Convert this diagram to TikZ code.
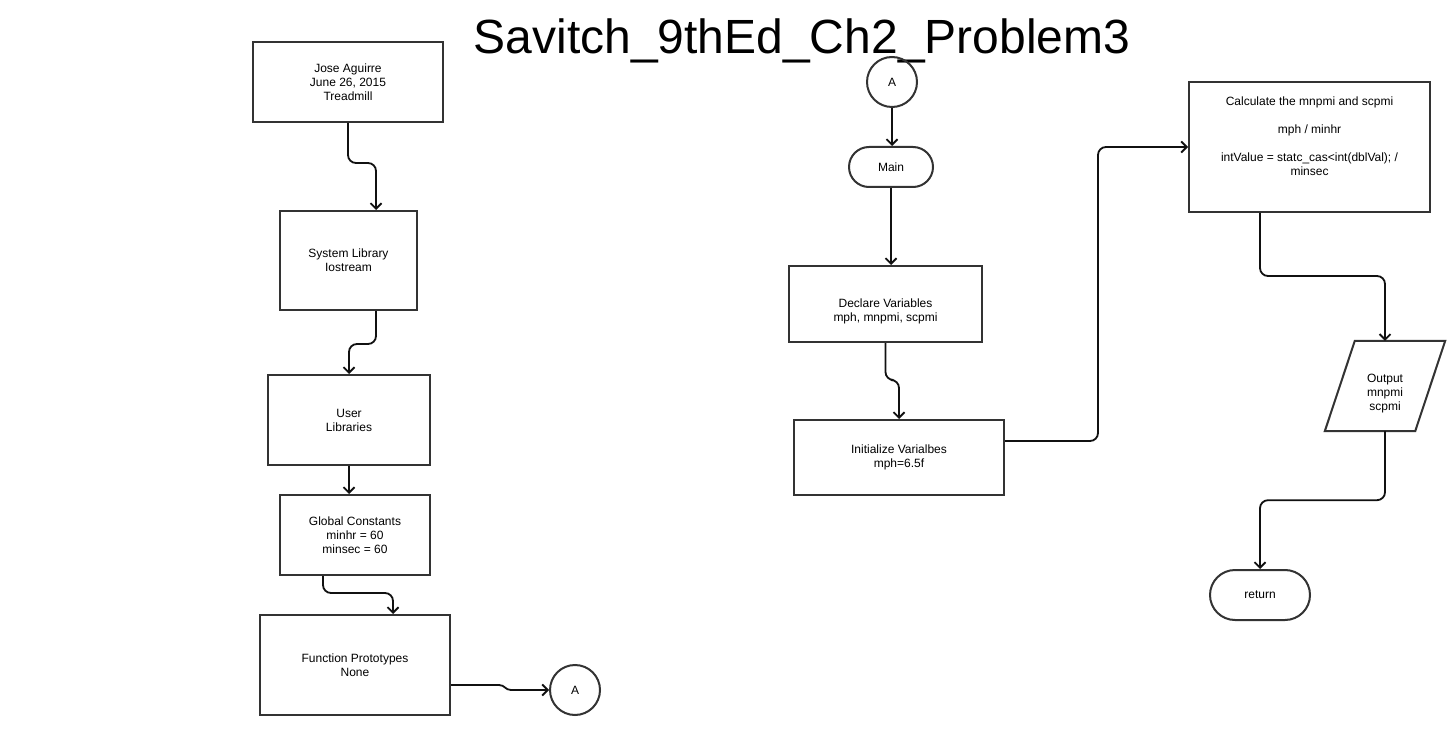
\documentclass[tikz,border=0pt]{standalone}
\usepackage{fontspec}
\setmainfont{Liberation Sans}
\usetikzlibrary{arrows.meta}
\definecolor{boxgray}{HTML}{333333}
\definecolor{linecol}{HTML}{111111}
\begin{document}
\begin{tikzpicture}[x=1pt,y=-1pt,
  box/.style={draw=boxgray, line width=2pt, inner sep=0pt, align=center, font=\fontsize{12}{14}\selectfont},
  txt/.style={inner sep=0pt, align=center, font=\fontsize{12}{14}\selectfont},
  conn/.style={draw=linecol, line width=1.8pt, rounded corners=8pt, -{Straight Barb[length=5.5pt,width=11pt]}},
  boxline/.style={draw=boxgray, line width=2pt, line join=miter}]
\useasboundingbox (0,0) rectangle (1456,735);
\fill[white] (0,0) rectangle (1456,735);

\node[anchor=base, inner sep=0pt, font=\fontsize{48}{48}\selectfont] (title) at (802,54) {Savitch\_9thEd\_Ch2\_Problem3};

% left column
\node[box, minimum width=190pt, minimum height=80pt] (jose) at (348,82) {Jose Aguirre\\June 26, 2015\\Treadmill};
\node[box, minimum width=137pt, minimum height=99pt] (sys) at (348.5,260.5) {System Library\\Iostream};
\node[box, minimum width=162pt, minimum height=90pt] (user) at (349,420) {User\\Libraries};
\node[box, minimum width=150pt, minimum height=80pt] (glob) at (355,535) {Global Constants\\minhr = 60\\minsec = 60};
\node[box, minimum width=190pt, minimum height=100pt] (func) at (355,665) {Function Prototypes\\None};
\node[box, circle, minimum size=50pt] (cAl) at (575,690) {A};

% middle column
\node[box, circle, minimum size=50pt] (cAt) at (892,82) {A};
\node[box, minimum width=84pt, minimum height=40pt, rounded corners=20pt] (main) at (891,167) {Main};
\node[box, minimum width=193pt, minimum height=76pt] (decl) at (885.5,304) {};
\node[txt] (declt) at (885.5,311) {Declare Variables\\mph, mnpmi, scpmi};
\node[box, minimum width=210pt, minimum height=75pt] (init) at (899,457.5) {Initialize Varialbes\\mph=6.5f};

% right column
\node[box, minimum width=241pt, minimum height=130pt] (calc) at (1309.5,147) {};
\node[txt, anchor=north] (calct) at (1309.5,97) {Calculate the mnpmi and scpmi\\[14pt]mph / minhr\\[14pt]intValue = statc\_cas<int(dblVal); /\\minsec};
\node[inner sep=0pt, minimum width=90pt, minimum height=90pt] (out) at (1385,386) {};
\draw[boxline] ([xshift=15pt]out.north west) -- ([xshift=15pt]out.north east) -- ([xshift=-15pt]out.south east) -- ([xshift=-15pt]out.south west) -- cycle;
\node[txt] (outt) at (1385,394) {Output\\mnpmi\\scpmi};
\node[box, minimum width=100pt, minimum height=50pt, rounded corners=25pt] (ret) at (1260,595) {return};

% connectors
\draw[conn] (jose.south) -- ++(0,40) -| ([xshift=27.5pt]sys.north);
\draw[conn] ([xshift=27.5pt]sys.south) -- ++(0,33) -| (user.north);
\draw[conn] (user.south) -- (user.south |- glob.north);
\draw[conn] ([xshift=-32pt]glob.south) -- ++(0,17) -| ([xshift=38pt]func.north);
\draw[conn, sharp corners] ([yshift=-20pt]func.east) -- ++(48,0) .. controls +(6,0) and +(-6,0) .. ++(12,5) -- (cAl.west);
\draw[conn] (cAt.south) -- (cAt.south |- main.north);
\draw[conn] (main.south) -- (main.south |- decl.north);
\draw[conn] (decl.south) -- ++(0,37) -| (init.north);
\draw[conn] ([yshift=16.5pt]init.east) -- ++(93,0) |- (calc.west);
\draw[conn] ([xshift=-49.5pt]calc.south) -- ++(0,63) -| (out.north);
\draw[conn] (out.south) -- ++(0,69) -| (ret.north);
\end{tikzpicture}
\end{document}
